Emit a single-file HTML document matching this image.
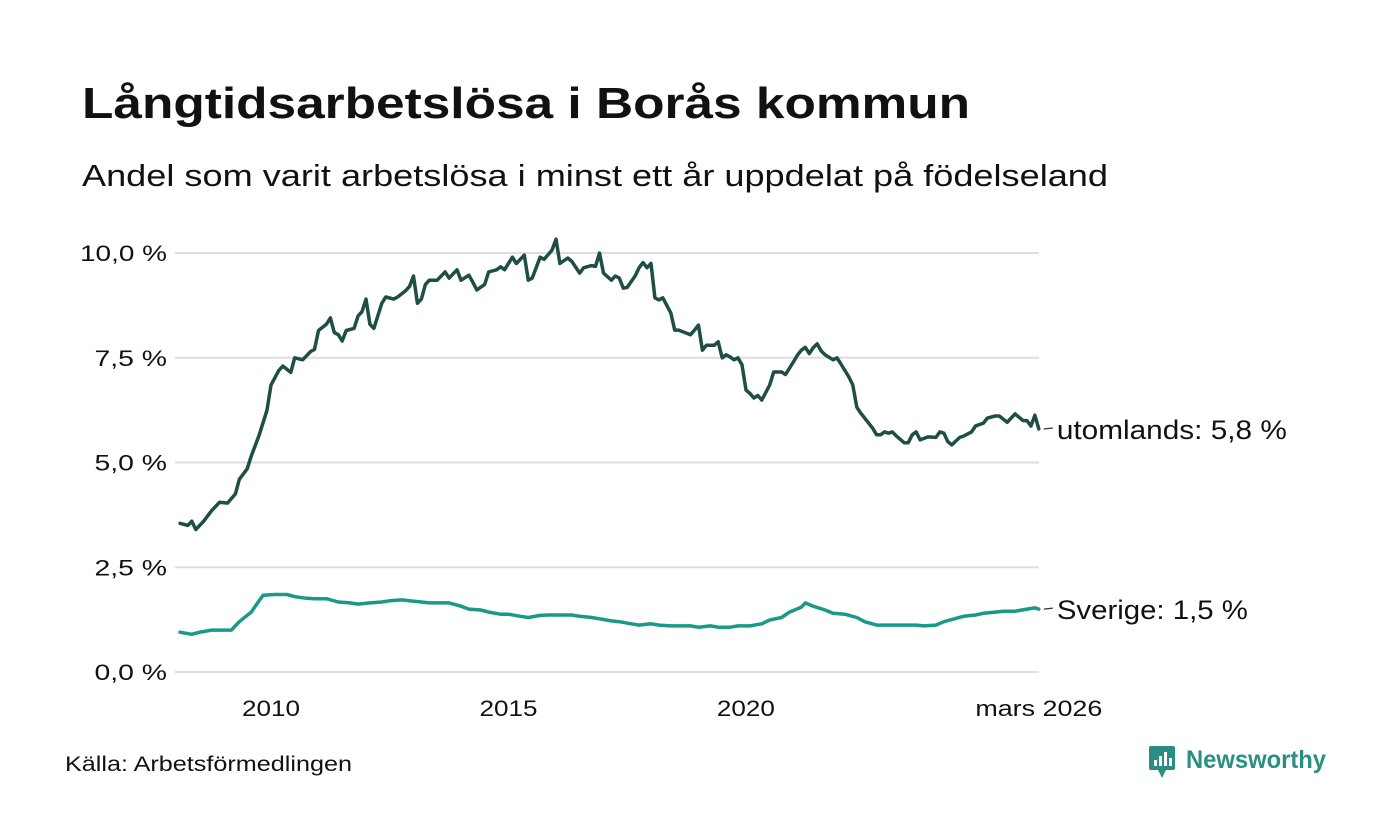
<!DOCTYPE html>
<html><head><meta charset="utf-8"><style>
html,body{margin:0;padding:0;background:#fff;}
svg{display:block;font-family:"Liberation Sans","DejaVu Sans",sans-serif;}
</style></head><body>
<svg id="chart" width="1400" height="840" viewBox="0 0 1400 840" xmlns="http://www.w3.org/2000/svg">
<rect width="1400" height="840" fill="#fff"/>
<text x="82" y="118" font-size="44" font-weight="bold" fill="#111" textLength="888" lengthAdjust="spacingAndGlyphs">Långtidsarbetslösa i Borås kommun</text>
<text x="82" y="186" font-size="31" fill="#111" textLength="1026" lengthAdjust="spacingAndGlyphs">Andel som varit arbetslösa i minst ett år uppdelat på födelseland</text>
<g id="grid"></g><g id="yticks"></g><g id="xticks"></g><g id="lines"></g><g id="labels"></g>
<text x="65" y="771" font-size="21" fill="#111" textLength="287" lengthAdjust="spacingAndGlyphs">Källa: Arbetsförmedlingen</text>
<g>
<rect x="1149" y="746" width="26" height="24" rx="2" fill="#2a8f82"/>
<path d="M1158 770 L1162 778 L1166 770 Z" fill="#2a8f82"/>
<rect x="1154" y="760" width="3" height="6" fill="#fff"/><rect x="1159" y="756" width="3" height="10" fill="#fff"/><rect x="1164" y="752" width="3" height="14" fill="#fff"/><rect x="1169" y="758" width="3" height="8" fill="#fff"/>
<text x="1186" y="768" font-size="25" font-weight="bold" fill="#2a8f82" textLength="140" lengthAdjust="spacingAndGlyphs">Newsworthy</text>
</g>
</svg>
<script>
const yTicks=[0,2.5,5,7.5,10];
const yTickLabels=["0,0 %","2,5 %","5,0 %","7,5 %","10,0 %"];
const xTickYears=[2010,2015,2020];
const xTickLabels=["2010","2015","2020","mars 2026"];
// months since Jan 2008 (1 = Feb 2008)
const monthsUtomlands=[1,3,4,5,7,9,11,13,15,16,18,19,21,23,24,26,27,29,30,32,34,35,36,38,39,40,41,42,43,45,46,47,48,49,50,52,53,55,56,58,59,60,61,62,63,64,66,68,69,71,72,74,75,76,78,79,81,82,83,85,86,88,89,90,92,93,95,96,97,99,100,102,103,105,106,107,108,110,111,112,113,114,116,117,118,119,120,121,122,123,125,126,127,130,131,132,133,134,136,137,138,139,140,141,142,143,144,145,146,147,148,150,151,153,154,156,157,158,159,160,161,162,163,164,166,167,168,170,171,172,173,175,176,177,178,179,180,181,182,184,185,186,187,188,190,192,193,194,195,196,198,199,201,202,204,205,207,208,210,211,212,214,215,216,217,218];
const valuesUtomlands=[3.55,3.5,3.6,3.4,3.6,3.85,4.05,4.03,4.25,4.6,4.85,5.15,5.65,6.25,6.85,7.2,7.3,7.15,7.5,7.45,7.65,7.7,8.15,8.3,8.45,8.1,8.05,7.9,8.15,8.2,8.5,8.6,8.9,8.3,8.2,8.8,8.95,8.9,8.95,9.1,9.2,9.45,8.8,8.9,9.25,9.35,9.35,9.55,9.4,9.6,9.35,9.47,9.3,9.12,9.25,9.55,9.6,9.67,9.6,9.9,9.75,9.95,9.35,9.4,9.9,9.85,10.07,10.33,9.75,9.88,9.8,9.52,9.65,9.7,9.68,10.0,9.52,9.35,9.45,9.4,9.16,9.18,9.45,9.65,9.77,9.65,9.75,8.93,8.88,8.93,8.57,8.16,8.16,8.05,8.16,8.28,7.68,7.8,7.8,7.88,7.5,7.57,7.52,7.45,7.5,7.33,6.73,6.65,6.54,6.6,6.49,6.85,7.16,7.16,7.1,7.4,7.56,7.68,7.75,7.6,7.74,7.83,7.66,7.57,7.45,7.5,7.35,7.04,6.85,6.32,6.18,5.94,5.82,5.66,5.66,5.73,5.7,5.73,5.63,5.47,5.47,5.66,5.73,5.54,5.61,5.6,5.73,5.7,5.5,5.42,5.6,5.63,5.73,5.87,5.94,6.06,6.11,6.11,5.96,6.06,6.16,6.0,6.0,5.87,6.13,5.8];
const monthsSverige=[1,4,6,9,11,14,16,19,21,22,25,28,30,33,35,38,41,44,46,49,52,54,57,59,62,64,67,69,72,74,77,79,82,84,87,89,92,94,97,100,102,105,107,110,112,115,117,120,122,125,127,130,132,135,137,140,142,145,148,150,153,155,158,159,161,164,166,169,172,174,177,179,182,184,187,189,192,194,197,199,202,204,207,209,212,215,217,218];
const valuesSverige=[0.95,0.9,0.95,1.0,1.0,1.0,1.2,1.43,1.7,1.83,1.85,1.85,1.8,1.76,1.75,1.75,1.67,1.65,1.62,1.65,1.67,1.7,1.72,1.7,1.67,1.65,1.65,1.65,1.57,1.5,1.48,1.43,1.38,1.38,1.33,1.3,1.35,1.36,1.36,1.36,1.33,1.3,1.27,1.22,1.2,1.15,1.12,1.15,1.12,1.1,1.1,1.1,1.07,1.1,1.07,1.07,1.1,1.1,1.15,1.24,1.3,1.43,1.55,1.65,1.57,1.48,1.4,1.38,1.3,1.2,1.12,1.12,1.12,1.12,1.12,1.1,1.12,1.2,1.28,1.33,1.36,1.4,1.43,1.45,1.45,1.5,1.53,1.5];

const NS="http://www.w3.org/2000/svg";
const X0=176,PXM=3.958,Y0=672,PXU=41.9,XL=175,XR=1039;
const xs=m=>X0+m*PXM;
const ys=v=>Y0-v*PXU;
function mk(tag,attrs,parent){const e=document.createElementNS(NS,tag);for(const k in attrs)e.setAttribute(k,attrs[k]);parent.appendChild(e);return e;}
const grid=document.getElementById('grid'),yt=document.getElementById('yticks'),xt=document.getElementById('xticks'),lines=document.getElementById('lines'),labels=document.getElementById('labels');
yTicks.forEach((v,i)=>{
 const l=mk('line',{x1:XL,x2:XR,y1:ys(v),y2:ys(v),stroke:'#dddde2','stroke-width':2},grid);
 
 
 const lab=yTickLabels[i];
 const t=mk('text',{x:167,y:ys(v)+8,'text-anchor':'end','font-size':22,fill:'#111',textLength:lab.length*14.5,lengthAdjust:'spacingAndGlyphs'},yt);
 t.textContent=lab;
 
 
});
xTickYears.forEach((yr,i)=>{
 const t=mk('text',{x:xs((yr-2008)*12),y:716,'text-anchor':'middle','font-size':22,fill:'#111',textLength:58,lengthAdjust:'spacingAndGlyphs'},xt);
 t.textContent=xTickLabels[i];
 
 
});
const lastM=monthsUtomlands[monthsUtomlands.length-1];
const tl=mk('text',{x:xs(lastM),y:716,'text-anchor':'middle','font-size':22,fill:'#111',textLength:127,lengthAdjust:'spacingAndGlyphs'},xt);
tl.textContent=xTickLabels[3];


function series(ms,vs,color,name,lab,len){
 const d=ms.map((m,i)=>(i?'L':'M')+xs(m).toFixed(1)+' '+ys(vs[i]).toFixed(1)).join(' ');
 const p=mk('path',{d:d,fill:'none',stroke:color,'stroke-width':3.5,'stroke-linejoin':'round','stroke-linecap':'round'},lines);
 
 
 const lm=ms[ms.length-1],lv=vs[vs.length-1];
 const ly=ys(lv);
 const c=mk('line',{x1:xs(lm)+5,x2:xs(lm)+14,y1:ly,y2:ly-1,stroke:'#333','stroke-width':1.2},labels);
 
 
 const t=mk('text',{x:xs(lm)+18,y:ly+10,'font-size':27,fill:'#111',textLength:len,lengthAdjust:'spacingAndGlyphs'},labels);
 t.textContent=lab+': '+lv.toFixed(1).replace('.',',')+' %';
 
 
}
series(monthsUtomlands,valuesUtomlands,'#1f4e45','line-utomlands','utomlands',230);
series(monthsSverige,valuesSverige,'#1a9988','line-sverige','Sverige',191);
</script>
</body></html>
